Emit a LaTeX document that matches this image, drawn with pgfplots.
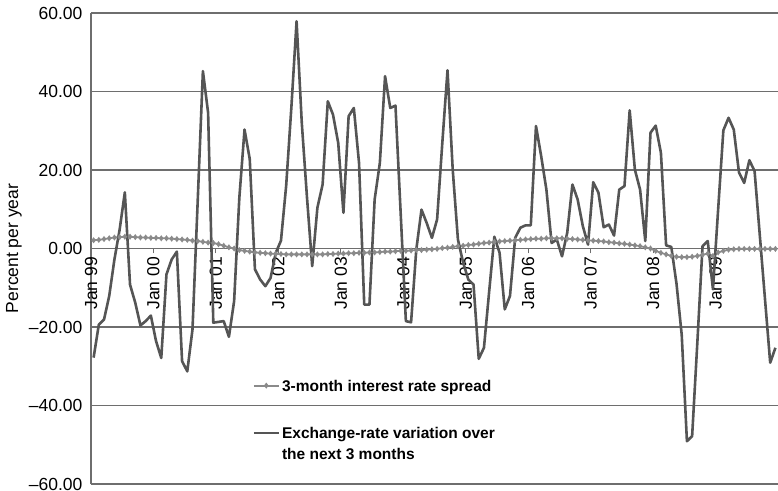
\documentclass[border=0pt]{standalone}
\usepackage{fontspec}
\setmainfont{Liberation Sans}
\usepackage{pgfplots}
\usepackage{pgfplotstable}
\pgfplotsset{compat=1.18}
\definecolor{darkser}{HTML}{555555}
\definecolor{lightser}{HTML}{8A8A8A}
\definecolor{gridc}{HTML}{6E6E6E}
\pgfplotstableread{
i v
0 2.1
1 2.2
2 2.4
3 2.6
4 2.8
5 2.9
6 3.0
7 3.0
8 2.9
9 2.8
10 2.8
11 2.7
12 2.7
13 2.6
14 2.6
15 2.5
16 2.4
17 2.3
18 2.2
19 2.0
20 1.9
21 1.7
22 1.5
23 1.4
24 1.1
25 0.7
26 0.3
27 0.0
28 -0.4
29 -0.6
30 -0.8
31 -1.0
32 -1.1
33 -1.2
34 -1.3
35 -1.4
36 -1.4
37 -1.5
38 -1.5
39 -1.5
40 -1.5
41 -1.5
42 -1.5
43 -1.5
44 -1.5
45 -1.4
46 -1.4
47 -1.3
48 -1.3
49 -1.2
50 -1.2
51 -1.1
52 -1.1
53 -1.0
54 -1.0
55 -0.9
56 -0.8
57 -0.8
58 -0.7
59 -0.6
60 -0.6
61 -0.5
62 -0.4
63 -0.4
64 -0.3
65 -0.2
66 -0.1
67 0.1
68 0.2
69 0.4
70 0.6
71 0.7
72 0.9
73 1.0
74 1.2
75 1.4
76 1.5
77 1.7
78 1.8
79 1.9
80 2.0
81 2.1
82 2.2
83 2.3
84 2.4
85 2.5
86 2.5
87 2.6
88 2.6
89 2.6
90 2.6
91 2.5
92 2.4
93 2.3
94 2.2
95 2.1
96 2.0
97 1.9
98 1.8
99 1.6
100 1.5
101 1.3
102 1.2
103 1.0
104 0.8
105 0.6
106 0.3
107 0.0
108 -0.6
109 -1.1
110 -1.5
111 -1.9
112 -2.1
113 -2.2
114 -2.2
115 -2.1
116 -1.9
117 -1.6
118 -1.3
119 -1.9
120 -1.0
121 -0.6
122 -0.3
123 -0.2
124 -0.1
125 -0.1
126 -0.1
127 -0.1
128 -0.1
129 -0.1
130 -0.1
131 -0.1
}\spread
\pgfplotstableread{
i v
0 -27.8
1 -19.4
2 -18.1
3 -12.1
4 -2.8
5 4.8
6 14.3
7 -9.2
8 -13.8
9 -19.6
10 -18.5
11 -17.1
12 -23.6
13 -27.9
14 -6.6
15 -2.8
16 -0.8
17 -28.7
18 -31.3
19 -20.6
20 12.0
21 45.2
22 34.6
23 -18.9
24 -18.7
25 -18.5
26 -22.5
27 -13.4
28 12.9
29 30.3
30 22.8
31 -5.3
32 -7.9
33 -9.6
34 -7.5
35 -1.1
36 2.0
37 16.0
38 36.0
39 57.9
40 32.0
41 13.0
42 -4.5
43 10.4
44 16.3
45 37.5
46 34.1
47 26.9
48 9.1
49 33.7
50 35.8
51 21.8
52 -14.3
53 -14.3
54 12.5
55 21.8
56 43.9
57 35.8
58 36.4
59 9.0
60 -18.5
61 -18.8
62 -0.3
63 9.9
64 6.5
65 2.7
66 7.4
67 26.9
68 45.4
69 20.1
70 2.3
71 -3.6
72 -7.9
73 -9.2
74 -28.1
75 -25.3
76 -11.0
77 3.0
78 -1.1
79 -15.5
80 -12.1
81 2.7
82 5.3
83 5.9
84 5.9
85 31.2
86 23.5
87 15.0
88 1.4
89 2.3
90 -2.0
91 4.0
92 16.3
93 12.5
94 5.7
95 1.0
96 16.9
97 14.2
98 5.4
99 6.1
100 3.3
101 15.0
102 15.9
103 35.2
104 20.1
105 15.0
106 1.9
107 29.5
108 31.3
109 24.4
110 0.8
111 0.4
112 -9.0
113 -22.0
114 -49.1
115 -47.8
116 -24.0
117 0.6
118 1.9
119 -10.4
120 10.0
121 30.1
122 33.3
123 30.3
124 19.4
125 16.7
126 22.5
127 19.7
128 3.4
129 -12.9
130 -29.1
131 -25.3
}\exch
\begin{document}
\begin{tikzpicture}
\begin{axis}[
  scale only axis, width=687pt, height=471pt,
  xmin=-0.5, xmax=131.5, ymin=-60, ymax=60,
  axis x line*=middle, axis y line*=left,
  hide obscured x ticks=false, hide obscured y ticks=false,
  axis line style={draw=gridc, line width=1.1pt},
  ytick={-60,-40,...,60},
  yticklabels={–60.00,–40.00,–20.00,0.00,20.00,40.00,60.00},
  ymajorgrids, grid style={draw=gridc, line width=1.1pt},
  y tick style={draw=none},
  xtick={-0.5,11.5,23.5,35.5,47.5,59.5,71.5,83.5,95.5,107.5,119.5},
  xticklabels={Jan 99,Jan 00,Jan 01,Jan 02,Jan 03,Jan 04,Jan 05,Jan 06,Jan 07,Jan 08,Jan 09},
  x tick style={draw=gridc, line width=1pt},
  tick align=outside, major tick length=5pt,
  xticklabel style={rotate=90, anchor=east, font=\fontsize{17.5}{20}\selectfont},
  yticklabel style={font=\fontsize{17.5}{20}\selectfont},
  legend style={draw=none, fill=none, at={(rel axis cs:0.2304,0.230)}, anchor=north west,
    font=\bfseries\fontsize{15.5}{21}\selectfont, cells={anchor=base west, inner xsep=1.5pt}, row sep=27pt},
  legend image code/.code={\draw[mark repeat=2,mark phase=2,#1] plot coordinates {(0pt,5.5pt) (12.5pt,5.5pt) (25pt,5.5pt)};},
]
\coordinate (sw) at (rel axis cs:0,0);
\coordinate (ne) at (rel axis cs:1,1);
\coordinate (ml) at (rel axis cs:0,0.5);
\addplot[color=lightser, line width=1.8pt, mark=diamond*, mark size=1.6pt, mark options={solid, fill=lightser, draw=lightser}] table[x=i, y=v] {\spread};
\addlegendentry{3-month interest rate spread}
\addplot[color=darkser, line width=2.6pt, line join=round] table[x=i, y=v] {\exch};
\addlegendentry{\begin{tabular}[t]{@{}l@{}}Exchange-rate variation over\\the next 3 months\end{tabular}}
\end{axis}
\node[rotate=90, font=\fontsize{17.5}{20}\selectfont] at ([xshift=-77pt]ml) {Percent per year};
\pgfresetboundingbox
\path ([xshift=-91pt,yshift=-6pt]sw) rectangle ([yshift=13pt]ne);
\end{tikzpicture}
\end{document}
